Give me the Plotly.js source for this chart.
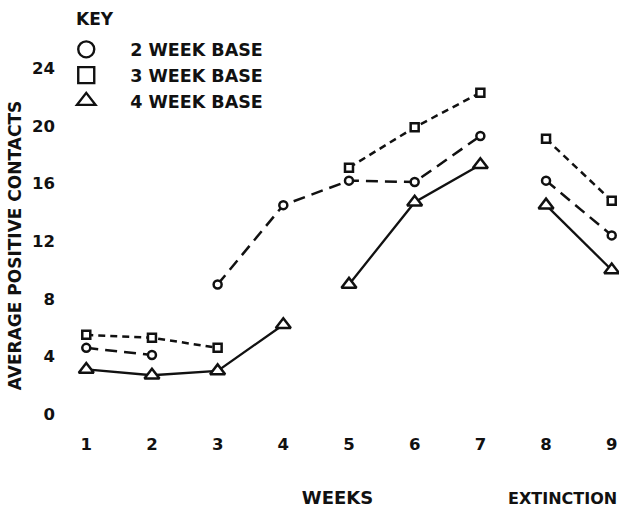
<!DOCTYPE html>
<html>
<head>
<meta charset="utf-8">
<script src="https://cdn.plot.ly/plotly-3.0.1.min.js"></script>
<style>html,body{margin:0;padding:0;background:#fff;}#chart{width:619px;height:508px;}</style>
</head>
<body>
<div id="chart"></div>
<script>
// ---- data ----
var weekTicks = [1, 2, 3, 4, 5, 6, 7, 8, 9];
var yTicks = [0, 4, 8, 12, 16, 20, 24];

// 2 WEEK BASE (circles)
var twoWeekBaseWeeks = [1, 2];
var twoWeekBase = [4.6, 4.1];
var twoWeekTreatWeeks = [3, 4, 5, 6, 7];
var twoWeekTreat = [9.0, 14.5, 16.2, 16.1, 19.3];
var twoWeekExtWeeks = [8, 9];
var twoWeekExt = [16.2, 12.4];

// 3 WEEK BASE (squares)
var threeWeekBaseWeeks = [1, 2, 3];
var threeWeekBase = [5.5, 5.3, 4.6];
var threeWeekTreatWeeks = [5, 6, 7];
var threeWeekTreat = [17.1, 19.9, 22.3];
var threeWeekExtWeeks = [8, 9];
var threeWeekExt = [19.1, 14.8];

// 4 WEEK BASE (triangles)
var fourWeekBaseWeeks = [1, 2, 3, 4];
var fourWeekBase = [3.1, 2.7, 3.0, 6.2];
var fourWeekTreatWeeks = [5, 6, 7];
var fourWeekTreat = [9.0, 14.7, 17.3];
var fourWeekExtWeeks = [8, 9];
var fourWeekExt = [14.5, 10.0];

var seriesNames = ['2 WEEK BASE', '3 WEEK BASE', '4 WEEK BASE'];

// ---- build traces ----
function joinPhases(xs, ys) {
  var X = [], Y = [];
  for (var i = 0; i < xs.length; i++) {
    if (i > 0) { X.push(null); Y.push(null); }
    X = X.concat(xs[i]); Y = Y.concat(ys[i]);
  }
  return {x: X, y: Y};
}
var INK = '#111111';
var FONT = 'DejaVu Sans, Liberation Sans, Arial, sans-serif';

var s2 = joinPhases([twoWeekBaseWeeks, twoWeekTreatWeeks, twoWeekExtWeeks], [twoWeekBase, twoWeekTreat, twoWeekExt]);
var s3 = joinPhases([threeWeekBaseWeeks, threeWeekTreatWeeks, threeWeekExtWeeks], [threeWeekBase, threeWeekTreat, threeWeekExt]);
var s4 = joinPhases([fourWeekBaseWeeks, fourWeekTreatWeeks, fourWeekExtWeeks], [fourWeekBase, fourWeekTreat, fourWeekExt]);

var traces = [
  {x: s3.x, y: s3.y, mode: 'lines+markers', showlegend: false, connectgaps: false, cliponaxis: false,
   line: {color: INK, width: 2.5, dash: '7px,5px'},
   marker: {symbol: 'square', size: 8, color: '#fff', line: {color: INK, width: 2.5}}},
  {x: s2.x, y: s2.y, mode: 'lines+markers', showlegend: false, connectgaps: false, cliponaxis: false,
   line: {color: INK, width: 2.5, dash: '12px,7px'},
   marker: {symbol: 'circle', size: 8, color: '#fff', line: {color: INK, width: 2.5}}},
  {x: s4.x, y: s4.y, mode: 'lines+markers', showlegend: false, connectgaps: false, cliponaxis: false,
   line: {color: INK, width: 2.3},
   marker: {symbol: 'triangle-up', size: 13, color: '#fff', line: {color: INK, width: 2.5}}},
  // legend-only entries (KEY)
  {x: [null], y: [null], mode: 'markers', name: seriesNames[0],
   marker: {symbol: 'circle', size: 16, color: '#fff', line: {color: INK, width: 2.4}}},
  {x: [null], y: [null], mode: 'markers', name: seriesNames[1],
   marker: {symbol: 'square', size: 16, color: '#fff', line: {color: INK, width: 2.4}}},
  {x: [null], y: [null], mode: 'markers', name: seriesNames[2],
   marker: {symbol: 'triangle-up', size: 16, color: '#fff', line: {color: INK, width: 2.4}}}
];

var layout = {
  width: 619, height: 508,
  margin: {l: 60, r: 4, t: 61, b: 78},
  paper_bgcolor: '#fff', plot_bgcolor: '#fff',
  font: {family: FONT, color: INK, size: 17, weight: 'bold'},
  showlegend: true,
  legend: {
    x: -0.032, xanchor: 'left', y: 1.08, yanchor: 'top',
    bgcolor: 'rgba(0,0,0,0)', itemwidth: 78,
    font: {family: FONT, size: 17.5, color: INK, weight: 'bold'},
    traceorder: 'normal'
  },
  xaxis: {
    range: [0.6, 9.05], tickvals: weekTicks, ticktext: weekTicks.map(String),
    showgrid: false, zeroline: false, showline: false, ticks: '',
    ticklabelstandoff: 2,
    tickfont: {family: FONT, size: 16.5, color: INK, weight: 'bold'},
    title: {text: 'WEEKS', font: {family: FONT, size: 18, color: INK, weight: 'bold'}, standoff: 40}
  },
  yaxis: {
    range: [-1.1, 24.5], tickvals: yTicks,
    showgrid: false, zeroline: false, showline: false, ticks: '',
    ticklabelstandoff: 4,
    tickfont: {family: FONT, size: 16.5, color: INK, weight: 'bold'},
    title: {text: 'AVERAGE POSITIVE CONTACTS', font: {family: FONT, size: 17, color: INK, weight: 'bold'}, standoff: 6}
  },
  annotations: [
    {text: 'KEY', xref: 'paper', yref: 'paper', x: (74 - 60) / 555, y: (430 - 7) / 369,
     xanchor: 'left', yanchor: 'top', showarrow: false,
     font: {family: FONT, size: 17, color: INK, weight: 'bold'}},
    {text: 'EXTINCTION', xref: 'paper', yref: 'paper', x: 1.008, y: (430 - 498) / 369,
     xanchor: 'right', yanchor: 'middle', showarrow: false,
     font: {family: FONT, size: 16, color: INK, weight: 'bold'}}
  ]
};

Plotly.newPlot('chart', traces, layout, {displayModeBar: false, staticPlot: true});
</script>
</body>
</html>
